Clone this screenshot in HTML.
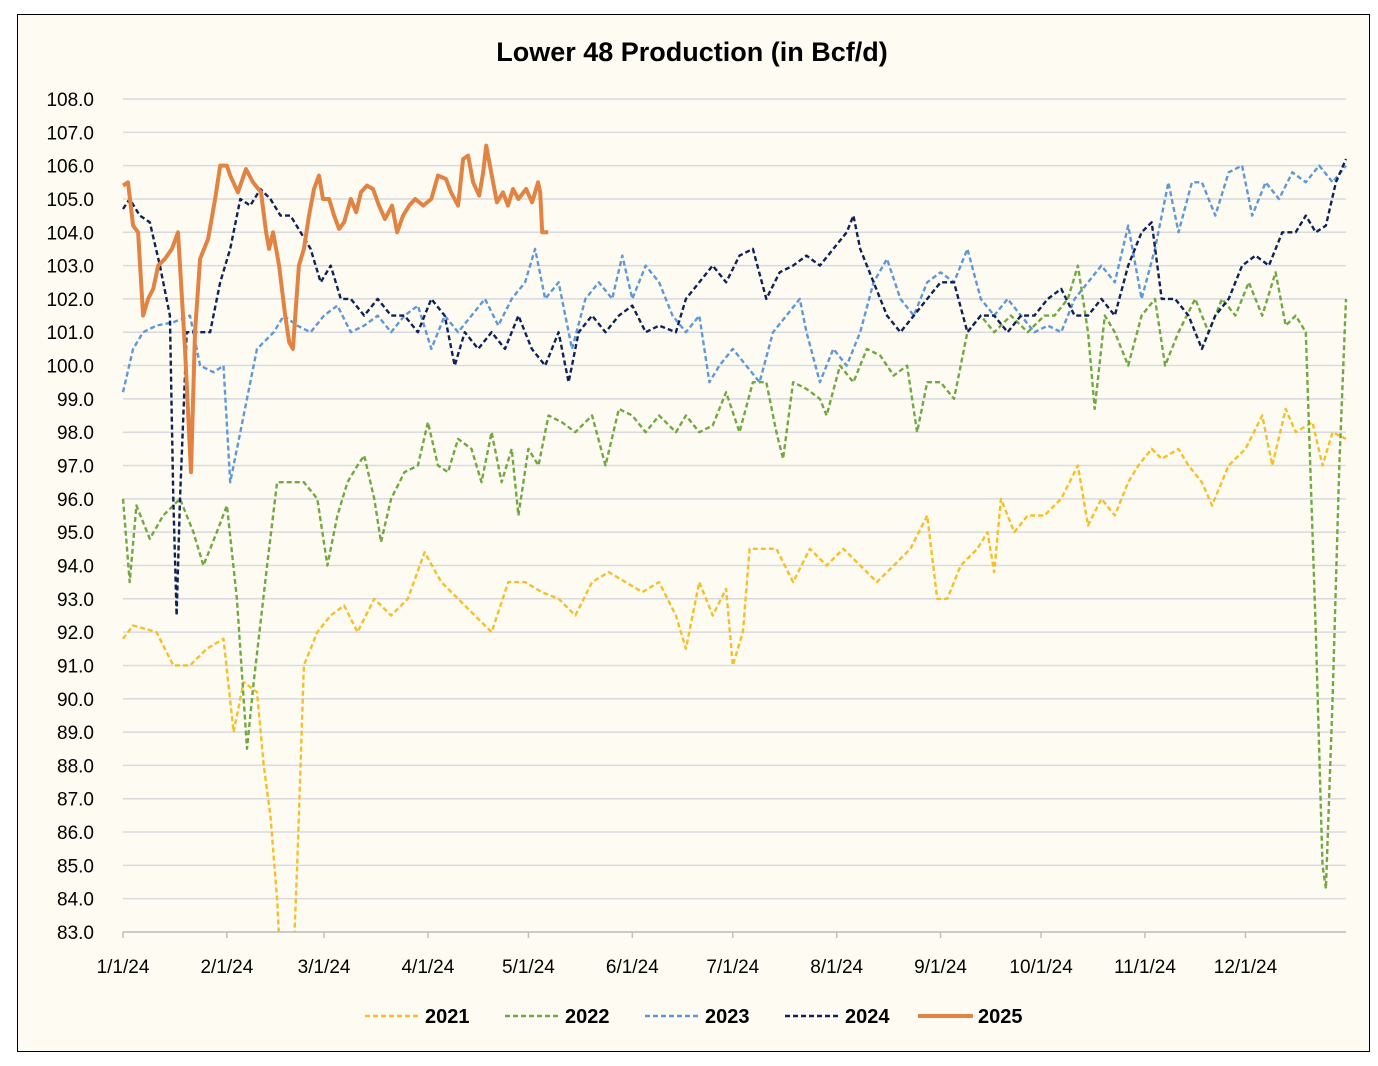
<!DOCTYPE html>
<html><head><meta charset="utf-8">
<style>
html,body{margin:0;padding:0;background:#fff;}
body{width:1378px;height:1066px;position:relative;font-family:"Liberation Sans",sans-serif;}
#frame{position:absolute;left:17px;top:14px;width:1351px;height:1036px;border:1.5px solid #000;background:#fefcf2;}
svg{position:absolute;left:0;top:0;}
</style></head>
<body>
<div id="frame"></div>
<svg id="chart" width="1378" height="1066"></svg>
<script>
const yTicks=[108,107,106,105,104,103,102,101,100,99,98,97,96,95,94,93,92,91,90,89,88,87,86,85,84,83];
const xTickLabels=["1/1/24","2/1/24","3/1/24","4/1/24","5/1/24","6/1/24","7/1/24","8/1/24","9/1/24","10/1/24","11/1/24","12/1/24"];
const xTickDays=[0,31,60,91,121,152,182,213,244,274,305,335];
const seriesNames=["2021","2022","2023","2024","2025"];
const d2021=[0,3,10,15,20,25,30,33,36,40,42,44,46,48,50,52,54,58,62,66,70,75,80,85,90,95,100,105,110,115,120,125,130,135,140,145,150,155,160,165,168,172,176,180,182,185,187,190,195,200,205,210,215,220,225,230,235,240,243,246,250,255,258,260,262,266,270,275,280,285,288,292,296,300,303,307,310,315,318,322,325,330,335,340,343,347,350,355,358,361,365];
const v2021=[91.8,92.2,92.0,91.0,91.0,91.5,91.8,89.0,90.5,90.2,88.0,86.5,84,80,80,85,91.0,92.0,92.5,92.8,92.0,93.0,92.5,93.0,94.4,93.5,93.0,92.5,92.0,93.5,93.5,93.2,93.0,92.5,93.5,93.8,93.5,93.2,93.5,92.5,91.5,93.5,92.5,93.3,91.0,92.0,94.5,94.5,94.5,93.5,94.5,94.0,94.5,94.0,93.5,94.0,94.5,95.5,93.0,93.0,94.0,94.5,95.0,93.8,96.0,95.0,95.5,95.5,96.0,97.0,95.2,96.0,95.5,96.5,97.0,97.5,97.2,97.5,97.0,96.5,95.8,97.0,97.5,98.5,97.0,98.7,98.0,98.3,97.0,98.0,97.8];
const d2022=[0,2,4,8,12,17,21,24,28,31,34,37,39,43,46,50,54,58,61,64,67,70,72,75,77,80,84,88,91,94,97,100,104,107,110,113,116,118,121,124,127,131,135,140,144,148,152,156,160,165,168,172,176,180,184,188,192,195,197,200,204,208,210,214,218,222,226,230,234,237,240,244,248,252,256,260,265,270,275,278,282,285,288,290,293,296,300,304,308,311,315,320,324,328,332,336,340,344,347,350,353,356,358,359,361,363,365];
const v2022=[96.0,93.5,95.8,94.8,95.5,96.0,95.0,94.0,95.0,95.8,93.0,88.5,90.5,94.0,96.5,96.5,96.5,96.0,94.0,95.5,96.5,97.0,97.3,96.0,94.7,96.0,96.8,97.0,98.3,97.0,96.8,97.8,97.5,96.5,98.0,96.5,97.5,95.5,97.5,97.0,98.5,98.3,98.0,98.5,97.0,98.7,98.5,98.0,98.5,98.0,98.5,98.0,98.2,99.2,98.0,99.5,99.5,98.0,97.2,99.5,99.3,99.0,98.5,100.0,99.5,100.5,100.3,99.7,100.0,98.0,99.5,99.5,99.0,101.0,101.5,101.0,101.5,101.0,101.5,101.5,102.0,103.0,101.0,98.7,101.5,101.0,100.0,101.5,102.0,100.0,101.0,102.0,101.0,102.0,101.5,102.5,101.5,102.8,101.2,101.5,101.0,92.0,85.0,84.3,90.0,97.0,102.0];
const d2023=[0,3,6,10,15,20,23,27,30,32,35,38,40,45,48,52,56,60,64,68,72,76,80,84,88,92,96,100,104,108,112,116,120,123,126,130,134,138,142,146,149,152,156,160,164,168,172,175,178,182,186,190,194,198,202,204,208,212,216,220,224,228,232,236,240,244,248,252,256,260,264,268,272,276,280,284,288,292,296,300,304,308,312,315,319,322,326,330,334,337,341,345,349,353,357,361,365];
const v2023=[99.2,100.5,101.0,101.2,101.3,101.5,100.0,99.8,100.0,96.5,98.0,99.5,100.5,101.0,101.5,101.2,101.0,101.5,101.8,101.0,101.2,101.5,101.0,101.5,101.8,100.5,101.5,101.0,101.5,102.0,101.2,102.0,102.5,103.5,102.0,102.5,100.5,102.0,102.5,102.0,103.3,102.0,103.0,102.5,101.5,101.0,101.5,99.5,100.0,100.5,100.0,99.5,101.0,101.5,102.0,101.0,99.5,100.5,100.0,101.0,102.5,103.2,102.0,101.5,102.5,102.8,102.5,103.5,102.0,101.5,102.0,101.5,101.0,101.2,101.0,102.0,102.5,103.0,102.5,104.2,102.0,103.5,105.5,104.0,105.5,105.5,104.5,105.8,106.0,104.5,105.5,105.0,105.8,105.5,106.0,105.5,106.0];
const d2024=[0,2,5,8,11,14,15,16,17,19,22,26,29,32,35,38,41,44,47,50,53,56,59,62,65,68,72,76,80,84,88,92,96,99,102,106,110,114,118,122,126,130,133,136,140,144,148,152,156,160,165,168,172,176,180,184,188,192,196,200,204,208,212,216,218,220,224,228,232,236,240,244,248,252,256,260,264,268,272,276,280,284,288,292,296,300,304,307,310,314,318,322,326,330,334,338,342,346,350,353,356,359,362,365];
const v2024=[104.7,105.0,104.5,104.3,103.0,101.5,96.0,92.5,96.0,101.0,101.0,101.0,102.5,103.5,105.0,104.8,105.3,105.0,104.5,104.5,104.0,103.5,102.5,103.0,102.0,102.0,101.5,102.0,101.5,101.5,101.0,102.0,101.5,100.0,101.0,100.5,101.0,100.5,101.5,100.5,100.0,101.0,99.5,101.0,101.5,101.0,101.5,101.8,101.0,101.2,101.0,102.0,102.5,103.0,102.5,103.3,103.5,102.0,102.8,103.0,103.3,103.0,103.5,104.0,104.5,103.5,102.5,101.5,101.0,101.5,102.0,102.5,102.5,101.0,101.5,101.5,101.0,101.5,101.5,102.0,102.3,101.5,101.5,102.0,101.5,103.0,104.0,104.3,102.0,102.0,101.5,100.5,101.5,102.0,103.0,103.3,103.0,104.0,104.0,104.5,104.0,104.2,105.5,106.2];
const d2025=[0,1.5,3,4.5,6,7.5,9,10.5,12.5,14.6,16.4,17.6,18.5,20.3,21.5,23,25.4,27.5,29,31,32,34.3,36.7,38.8,41.2,42.7,43.6,44.8,46.6,48.4,49.6,50.7,52.5,54,55.5,57,58.5,59.7,61.5,63,64.5,66,68,69.6,71,72.8,74.6,76.4,78.2,80.3,81.8,83.6,85.4,87.2,89.6,92,94,96.4,97.9,100,101.5,103,104.5,106.3,107.5,108.4,109.9,111.6,113.4,114.9,116.4,118,120.3,122.1,123.9,124.5,125.1,126.9];
const v2025=[105.4,105.5,104.2,104.0,101.5,102.0,102.3,103.0,103.2,103.5,104.0,102.0,100.5,96.8,101.0,103.2,103.8,105.0,106.0,106.0,105.7,105.2,105.9,105.5,105.2,104.0,103.5,104.0,103.0,101.5,100.7,100.5,103.0,103.5,104.5,105.3,105.7,105.0,105.0,104.5,104.1,104.3,105.0,104.6,105.2,105.4,105.3,104.8,104.4,104.8,104.0,104.5,104.8,105.0,104.8,105.0,105.7,105.6,105.2,104.8,106.2,106.3,105.5,105.1,105.8,106.6,105.8,104.9,105.2,104.8,105.3,105.0,105.3,104.9,105.5,105.2,104.0,104.0];

const NS="http://www.w3.org/2000/svg";
const svg=document.getElementById('chart');
const X0=123,X1=1346,Y0=99,Y1=932;
const xs=d=>X0+(X1-X0)*d/365;
const ys=v=>Y1-(v-83)*(Y1-Y0)/25;
function mk(tag,attrs,parent){const e=document.createElementNS(NS,tag);for(const k in attrs)e.setAttribute(k,attrs[k]);(parent||svg).appendChild(e);return e;}

const title=mk('text',{x:692,y:61,'text-anchor':'middle','font-size':27,'font-weight':'bold',fill:'#000'});


title.textContent='Lower 48 Production (in Bcf/d)';

const defs=mk('defs',{});
const cp=mk('clipPath',{id:'plotclip'},defs);
mk('rect',{x:X0-2,y:Y0-10,width:X1-X0+10,height:Y1-Y0+10},cp);

yTicks.forEach(t=>{
  const g=mk('line',{x1:X0,x2:X1,y1:ys(t),y2:ys(t),stroke:'#d9d9de','stroke-width':1.5});
  
  
  const l=mk('text',{x:94,y:ys(t)+7,'text-anchor':'end','font-size':19,fill:'#000'});
  
  
  l.textContent=t.toFixed(1);
});
const ax=mk('line',{x1:X0,x2:X1,y1:Y1,y2:Y1,stroke:'#bfbfbf','stroke-width':1.5});


xTickDays.forEach((d,i)=>{
  const tk=mk('line',{x1:xs(d),x2:xs(d),y1:Y1,y2:Y1+6,stroke:'#bfbfbf','stroke-width':1.5});
  
  
  const l=mk('text',{x:xs(d),y:973,'text-anchor':'middle','font-size':19,fill:'#000'});
  
  
  l.textContent=xTickLabels[i];
});

const series=[
 {d:d2021,v:v2021,c:'#f5bf2a',w:2.4,dash:'5,3'},
 {d:d2022,v:v2022,c:'#72a844',w:2.4,dash:'5,3'},
 {d:d2023,v:v2023,c:'#5e98d6',w:2.4,dash:'5,3'},
 {d:d2024,v:v2024,c:'#0e2258',w:2.4,dash:'5,3'},
 {d:d2025,v:v2025,c:'#e08343',w:4,dash:''}
];
const gp=mk('g',{'clip-path':'url(#plotclip)'});
series.forEach((s,i)=>{
  const pts=s.d.map((d,j)=>xs(d).toFixed(1)+','+ys(s.v[j]).toFixed(1)).join(' ');
  const p=mk('polyline',{points:pts,fill:'none',stroke:s.c,'stroke-width':s.w,'stroke-dasharray':s.dash,'stroke-linejoin':'round'},gp);
  
  
});

const legX=[365,505,645,785,918];
seriesNames.forEach((n,i)=>{
  const s=series[i];
  const g=mk('g',{});
  
  
  mk('line',{x1:legX[i],x2:legX[i]+55,y1:1016,y2:1016,stroke:s.c,'stroke-width':s.w===4?4:2.5,'stroke-dasharray':s.dash},g);
  const t=mk('text',{x:legX[i]+60,y:1023,'font-size':20,'font-weight':'bold',fill:'#000'},g);
  t.textContent=n;
});
</script>
</body></html>
